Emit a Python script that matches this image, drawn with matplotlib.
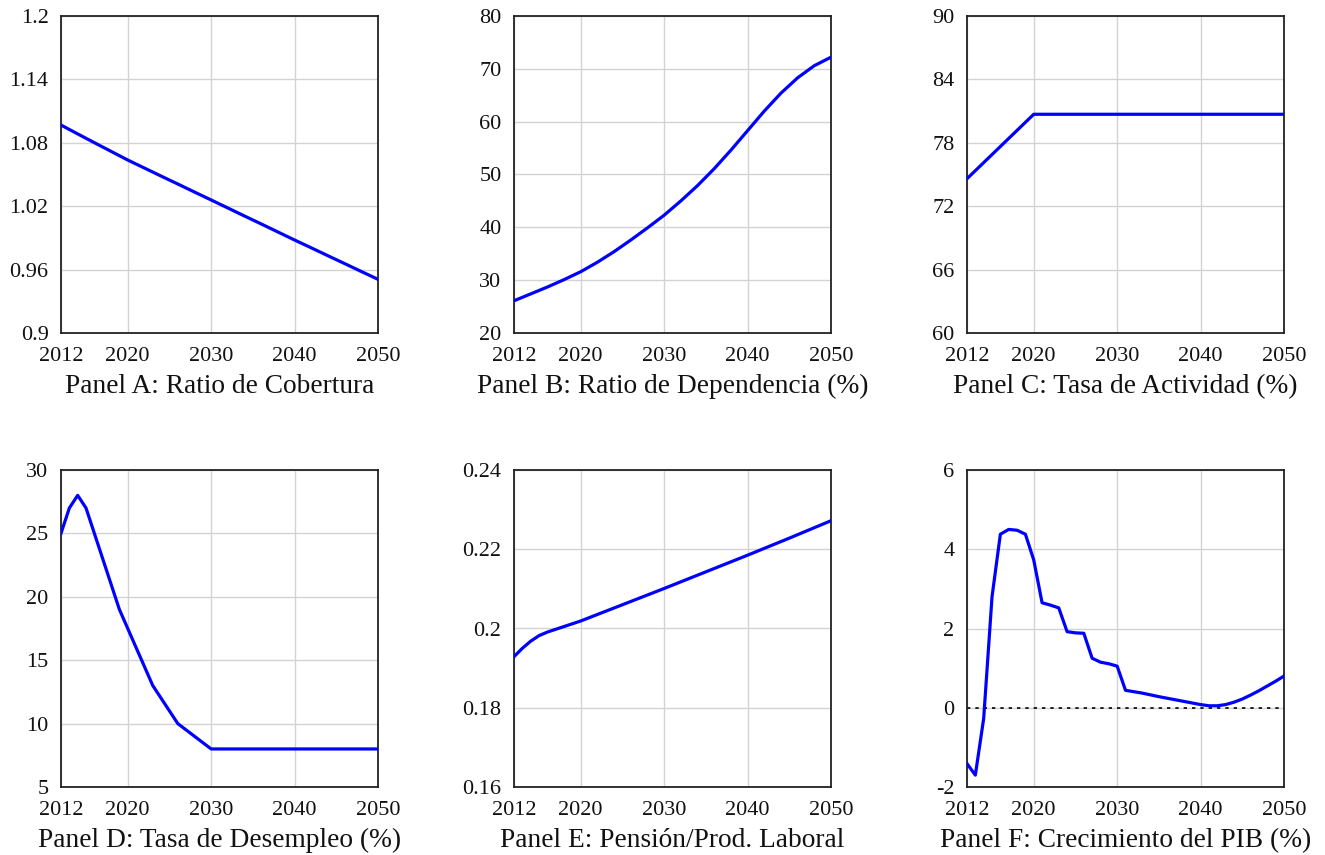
import matplotlib
matplotlib.use("Agg")
import matplotlib.pyplot as plt

plt.rcParams['font.family'] = ['Liberation Serif', 'DejaVu Serif']

# Panel A: Ratio de Cobertura
years_a = [2012, 2014, 2016, 2018, 2020, 2022, 2024, 2026, 2028, 2030,
           2032, 2034, 2036, 2038, 2040, 2042, 2044, 2046, 2048, 2050]
cobertura = [1.0968, 1.0884, 1.0801, 1.0719, 1.0637, 1.0561, 1.0485, 1.0410, 1.0334, 1.0259,
             1.0183, 1.0107, 1.0032, 0.9956, 0.9880, 0.9806, 0.9731, 0.9657, 0.9582, 0.9508]

# Panel B: Ratio de Dependencia (%)
years_b = years_a
dependencia = [26.1, 27.4, 28.7, 30.1, 31.6, 33.4, 35.4, 37.6, 39.9, 42.3,
               45.0, 47.9, 51.1, 54.6, 58.3, 62.0, 65.4, 68.3, 70.6, 72.2]

# Panel C: Tasa de Actividad (%)
years_c = [2012, 2020, 2050]
actividad = [74.6, 80.7, 80.7]

# Panel D: Tasa de Desempleo (%)
years_d = [2012, 2013, 2014, 2015, 2017, 2019, 2021, 2023, 2026, 2030, 2050]
desempleo = [25.0, 27.0, 28.0, 27.0, 23.0, 19.0, 16.0, 13.0, 10.0, 8.0, 8.0]

# Panel E: Pension/Prod. Laboral
years_e = [2012, 2013, 2014, 2015, 2016, 2018, 2020, 2025, 2030, 2035, 2040, 2045, 2050]
pension = [0.1929, 0.1950, 0.1968, 0.1982, 0.1991, 0.2005, 0.2019, 0.2060, 0.2101,
           0.2143, 0.2185, 0.2228, 0.2272]

# Panel F: Crecimiento del PIB (%)
years_f = [2012, 2013, 2014, 2015, 2016, 2017, 2018, 2019, 2020, 2021, 2022, 2023,
           2024, 2025, 2026, 2027, 2028, 2029, 2030, 2031, 2033, 2035, 2037, 2039,
           2040, 2041, 2042, 2043, 2044, 2045, 2046, 2047, 2048, 2049, 2050]
pib = [-1.41, -1.70, -0.27, 2.80, 4.38, 4.50, 4.48, 4.38, 3.73, 2.65, 2.59, 2.52,
       1.92, 1.89, 1.88, 1.25, 1.15, 1.11, 1.05, 0.44, 0.37, 0.28, 0.20, 0.12,
       0.08, 0.05, 0.05, 0.08, 0.14, 0.22, 0.32, 0.43, 0.55, 0.67, 0.80]

xticks = [2012, 2020, 2030, 2040, 2050]

panels = [
    (years_a, cobertura, "Panel A: Ratio de Cobertura", (0.9, 1.2),
     [0.9, 0.96, 1.02, 1.08, 1.14, 1.2], ["0.9", "0.96", "1.02", "1.08", "1.14", "1.2"]),
    (years_b, dependencia, "Panel B: Ratio de Dependencia (%)", (20, 80),
     [20, 30, 40, 50, 60, 70, 80], ["20", "30", "40", "50", "60", "70", "80"]),
    (years_c, actividad, "Panel C: Tasa de Actividad (%)", (60, 90),
     [60, 66, 72, 78, 84, 90], ["60", "66", "72", "78", "84", "90"]),
    (years_d, desempleo, "Panel D: Tasa de Desempleo (%)", (5, 30),
     [5, 10, 15, 20, 25, 30], ["5", "10", "15", "20", "25", "30"]),
    (years_e, pension, "Panel E: Pensión/Prod. Laboral", (0.16, 0.24),
     [0.16, 0.18, 0.2, 0.22, 0.24], ["0.16", "0.18", "0.2", "0.22", "0.24"]),
    (years_f, pib, "Panel F: Crecimiento del PIB (%)", (-2, 6),
     [-2, 0, 2, 4, 6], ["-2", "0", "2", "4", "6"]),
]

fig = plt.figure(figsize=(13.25, 8.55), dpi=100)
lefts = [61 / 1325, 514 / 1325, 967 / 1325]
bottoms = [(855 - 333) / 855, (855 - 787) / 855]
w = 317 / 1325
h = 317 / 855

for i, (x, y, title, ylim, yt, ytl) in enumerate(panels):
    ax = fig.add_axes([lefts[i % 3], bottoms[i // 3], w, h])
    ax.set_xlim(2012, 2050)
    ax.set_ylim(*ylim)
    ax.set_xticks(xticks)
    ax.set_xticklabels([str(t) for t in xticks])
    ax.set_yticks(yt)
    ax.set_yticklabels(ytl)
    ax.grid(True, color='#d3d3d3', linewidth=1.0)
    ax.set_axisbelow(True)
    ax.tick_params(axis='x', length=0, labelsize=16, pad=10, colors='#111111')
    ax.tick_params(axis='y', length=0, labelsize=16, pad=9, colors='#111111')
    for s in ax.spines.values():
        s.set_color('#222222')
        s.set_linewidth(1.3)
    if i == 5:
        ax.axhline(0, color='black', linestyle=(0, (2, 3)), linewidth=1.2, zorder=2)
    ax.plot(x, y, color='#0000ff', linewidth=2.3, zorder=3, clip_on=True)
    ax.set_xlabel(title, fontsize=19.7, labelpad=6, color='#111111')

fig.savefig("out.png", dpi=100)
